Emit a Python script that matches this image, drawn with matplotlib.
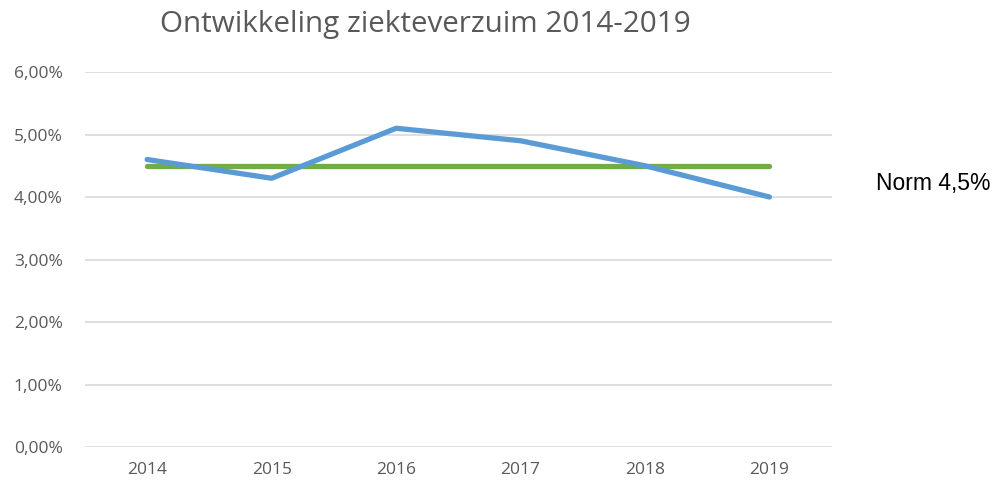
import matplotlib
matplotlib.use("Agg")
import matplotlib.pyplot as plt
from matplotlib.ticker import FuncFormatter

# data
jaren = ["2014", "2015", "2016", "2017", "2018", "2019"]
verzuim = [4.6, 4.3, 5.1, 4.9, 4.5, 4.0]
norm = [4.5, 4.5, 4.5, 4.5, 4.5, 4.5]
y_ticks = [0, 1, 2, 3, 4, 5, 6]

plt.rcParams['font.family'] = ['Open Sans', 'DejaVu Sans']

fig = plt.figure(figsize=(9.96, 4.82), dpi=100)
ax = fig.add_axes([0.0853, 0.0726, 0.835 - 0.0853, 0.8506 - 0.0726])

x = list(range(len(jaren)))
ax.plot(x, norm, color="#70AD47", linewidth=3.8, solid_capstyle="round", zorder=3)
ax.plot(x, verzuim, color="#5B9BD5", linewidth=3.8, solid_capstyle="round",
        solid_joinstyle="round", zorder=4)

ax.set_xlim(-0.5, len(jaren) - 0.5)
ax.set_ylim(0, 6)
ax.set_yticks(y_ticks)
ax.yaxis.set_major_formatter(FuncFormatter(lambda v, p: ("%.2f%%" % v).replace(".", ",")))
ax.set_xticks(x)
ax.set_xticklabels(jaren)
ax.grid(axis="y", color="#D9D9D9", linewidth=1.2)
ax.set_axisbelow(True)
for s in ax.spines.values():
    s.set_visible(False)
ax.tick_params(axis="both", length=0, labelsize=12.5, colors="#595959")
ax.tick_params(axis="y", pad=16)
ax.tick_params(axis="x", pad=11)

fig.text(0.427, 0.95, "Ontwikkeling ziekteverzuim 2014-2019", ha="center", va="center",
         fontsize=21.3, color="#595959")
fig.text(0.8795, 0.62, "Norm 4,5%", ha="left", va="center", fontsize=16.5,
         family=["Liberation Sans", "DejaVu Sans"], color="black")

fig.savefig("out.png", dpi=100)
